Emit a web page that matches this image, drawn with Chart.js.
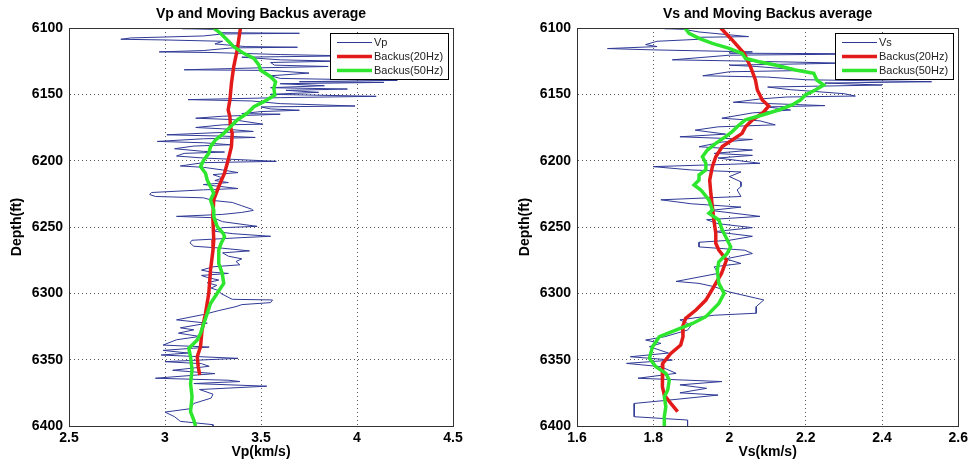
<!DOCTYPE html>
<html>
<head>
<meta charset="utf-8">
<script src="https://cdn.jsdelivr.net/npm/chart.js@4.4.1/dist/chart.umd.min.js"></script>
<style>
  body { margin: 0; background: #fff; width: 972px; height: 463px; overflow: hidden; position: relative; }
  .panel { position: absolute; top: 0; width: 486px; height: 463px; }
</style>
</head>
<body>
<div class="panel" style="left:0"><canvas id="vpChart" width="486" height="463"></canvas></div>
<div class="panel" style="left:486px"><canvas id="vsChart" width="486" height="463"></canvas></div>
<script>
// tick labels
var depthTicks = [6100, 6150, 6200, 6250, 6300, 6350, 6400];
var vpTicks = [2.5, 3, 3.5, 4, 4.5];
var vsTicks = [1.6, 1.8, 2, 2.2, 2.4, 2.6];

// [depth(ft), velocity(km/s)]
var vpLog = [
  [6100,3.26],[6100.5,3.09],[6101,3.25],[6103.5,3.28],[6104,3.70],[6104.5,3.30],[6106,3.20],[6107.5,2.82],
  [6108.5,2.77],[6109,3.00],[6110,3.30],[6112,3.26],[6114,3.42],[6114.5,3.69],[6115,3.35],[6117,3.20],
  [6118,2.97],[6118.5,3.25],[6120,3.60],[6121,3.95],[6122,3.40],[6124,3.60],[6125,3.90],[6126,3.55],
  [6128,3.57],[6129,3.85],[6130,3.50],[6131.5,3.10],[6132,3.55],[6134,3.75],[6136,3.55],[6138,3.60],
  [6139.5,4.21],[6140.5,3.70],[6141,4.14],[6142,3.60],[6143.5,3.83],[6145,3.55],[6146,3.95],[6147,3.63],
  [6148.5,3.80],[6150,3.55],[6151.5,4.10],[6152.5,3.60],[6154,3.12],[6155,3.45],[6157,3.60],[6158.8,3.99],
  [6159.5,3.50],[6161,3.55],[6162,3.70],[6163,3.50],[6164.5,3.40],[6165,3.60],[6166.5,3.30],[6168,3.16],
  [6169,3.35],[6172.5,3.51],[6173,3.30],[6175,3.16],[6176,3.30],[6178,3.46],[6179,3.25],[6180.5,3.01],
  [6181.5,3.30],[6182.5,3.47],[6183.5,3.20],[6185.5,2.96],[6186.5,3.20],[6188,3.34],[6189,3.15],[6191,3.05],
  [6193,3.20],[6193.5,3.31],[6194.5,3.10],[6196.5,3.06],[6198,3.20],[6200.5,3.58],[6201.5,3.20],[6204,3.08],
  [6205,3.20],[6207,3.30],[6209,3.38],[6210.5,3.25],[6213,3.30],[6215,3.26],[6216.5,3.33],[6218,3.20],
  [6221,3.38],[6222,3.20],[6224,2.93],[6225.5,2.92],[6227,2.95],[6228,3.20],[6230,3.25],[6231.5,3.35],
  [6234,3.40],[6236.5,3.45],[6237.5,3.46],[6239,3.40],[6240.5,3.30],[6242,3.06],[6243,3.25],[6246,3.30],
  [6249.5,3.48],[6250.5,3.30],[6253,3.25],[6255,3.35],[6257,3.55],[6258,3.40],[6260,3.14],[6262,3.13],
  [6264.5,3.15],[6266,3.30],[6268,3.44],[6269.5,3.30],[6272,3.33],[6274,3.40],[6276,3.37],[6278.5,3.39],
  [6280,3.25],[6282.5,3.19],[6284,3.24],[6285,3.33],[6286.5,3.19],[6288,3.22],[6290,3.28],[6292,3.22],
  [6294,3.27],[6296,3.24],[6298,3.28],[6300,3.29],[6304.5,3.35],[6305,3.56],[6307,3.55],[6308.5,3.40],
  [6310,3.37],[6313,3.28],[6316,3.20],[6320,3.06],[6322.5,3.22],[6326,3.08],[6327.5,3.15],[6330,3.07],
  [6332.5,3.18],[6335,3.06],[6339,2.99],[6340.5,3.23],[6343,2.99],[6345,3.12],[6346.5,2.98],[6349,3.38],
  [6351.5,3.00],[6353,3.19],[6355,3.23],[6358,3.04],[6360.5,3.26],[6364,2.95],[6365.5,3.33],[6366.5,3.39],
  [6368,3.15],[6370,3.53],[6372.5,3.18],[6376,3.25],[6379,3.24],[6383,3.15],[6387,3.13],[6389.5,3.00],
  [6393,3.05],[6396.5,3.08],[6399,3.25],[6400,3.25]
];
var vpBackus20 = [
  [6100,3.393],[6116.6,3.376],[6129.1,3.358],[6141.7,3.346],[6154.3,3.338],[6161.8,3.329],[6166.8,3.338],
  [6174.4,3.341],[6179.4,3.350],[6189.4,3.346],[6199.5,3.329],[6209.5,3.310],[6219.6,3.280],[6229.6,3.254],
  [6242.2,3.249],[6259.8,3.254],[6267.4,3.250],[6282.5,3.237],[6300,3.228],[6315.1,3.211],[6327.7,3.193],
  [6340.2,3.185],[6347.8,3.168],[6355.3,3.173],[6361.6,3.181]
];
var vpBackus50 = [
  [6100,3.254],[6104,3.289],[6109,3.324],[6114.1,3.358],[6119.1,3.410],[6122.9,3.463],[6127.9,3.489],
  [6131.7,3.497],[6136.7,3.550],[6140.5,3.576],[6145.5,3.567],[6150.5,3.572],[6155.5,3.515],[6159.3,3.463],
  [6164.3,3.428],[6169.3,3.376],[6174.4,3.341],[6179.4,3.306],[6184.4,3.263],[6189.4,3.237],[6194.5,3.228],
  [6199.5,3.202],[6204.5,3.185],[6209.5,3.211],[6214.6,3.220],[6219.6,3.237],[6224.6,3.254],[6229.6,3.237],
  [6237.2,3.254],[6242.2,3.254],[6249.7,3.272],[6254.8,3.303],[6257.3,3.310],[6262.3,3.292],[6267.4,3.280],
  [6277.4,3.280],[6285,3.298],[6292.5,3.306],[6300,3.272],[6307.6,3.237],[6315.1,3.220],[6322.7,3.202],
  [6330.2,3.185],[6335.2,3.168],[6341.5,3.124],[6347.8,3.133],[6357.8,3.141],[6367.9,3.133],[6377.9,3.141],
  [6389.2,3.133],[6395.5,3.150],[6400,3.159]
];

var vsLog = [
  [6100,1.88],[6100.5,1.83],[6101,1.88],[6103,1.92],[6106.5,2.05],[6107,1.92],[6108.5,1.92],[6110,1.81],
  [6112.5,1.78],[6114,1.81],[6115.5,1.68],[6116.5,1.80],[6118,2.06],[6119,2.00],[6119.5,2.40],[6120.5,2.00],
  [6124,1.85],[6125,2.05],[6126.5,2.30],[6128,2.00],[6129,2.07],[6132,2.20],[6133,2.00],[6136,1.93],
  [6137,2.10],[6139,2.20],[6140.5,2.53],[6141.5,2.25],[6143,2.40],[6144.5,2.10],[6146.5,2.16],[6149.5,2.30],
  [6151.3,2.33],[6152,2.15],[6153.5,2.08],[6156,2.01],[6158.5,2.25],[6159.5,2.10],[6161.8,2.16],[6164,2.06],
  [6168,1.98],[6170,2.08],[6173,2.12],[6174.5,1.97],[6177,1.91],[6180,1.99],[6182,1.87],[6184,2.06],
  [6186,1.98],[6189.5,1.92],[6192,2.06],[6194.5,1.96],[6196,2.06],[6198,1.97],[6202,2.08],[6204.5,1.80],
  [6207,1.90],[6208.5,2.03],[6212,2.00],[6216,2.03],[6219.5,2.03],[6222,2.02],[6227,2.03],[6229.5,1.82],
  [6232.5,1.90],[6235,2.03],[6237.5,1.95],[6242,2.08],[6244.5,1.94],[6247.5,1.97],[6250.5,2.06],[6253.5,1.96],
  [6257,2.06],[6260,2.00],[6261.5,1.92],[6265,1.92],[6267.5,2.04],[6270,2.06],[6274,1.99],[6277.5,2.03],
  [6280,1.96],[6285,1.97],[6291,1.86],[6292.5,1.92],[6295,1.96],[6299,2.00],[6301,2.03],[6305,2.09],
  [6310,2.07],[6315,2.07],[6316.5,1.96],[6320,1.87],[6324,1.90],[6327.7,1.89],[6332.7,1.83],[6335.2,1.78],
  [6337.7,1.82],[6340.2,1.79],[6345,1.84],[6347.8,1.74],[6350.3,1.85],[6352.8,1.73],[6355.3,1.82],[6360.3,1.86],
  [6364,1.76],[6366.5,1.98],[6369,1.87],[6371.6,1.94],[6375,1.87],[6376.7,1.97],[6380.5,1.84],[6383,1.75],
  [6388,1.75],[6393,1.75],[6395.5,1.89],[6400,1.89]
];
var vsBackus20 = [
  [6100,1.977],[6109,2.007],[6119.1,2.038],[6129.1,2.055],[6139.2,2.068],[6146.7,2.073],[6154.3,2.086],
  [6158.8,2.103],[6164.3,2.086],[6169.3,2.060],[6174.4,2.042],[6179.4,2.033],[6184.4,2.007],[6189.4,1.981],
  [6197,1.964],[6204.5,1.955],[6214.6,1.948],[6224.6,1.951],[6234.7,1.955],[6244.7,1.959],[6254.8,1.964],
  [6262.3,1.964],[6267.4,1.972],[6274.9,1.992],[6285,1.979],[6295,1.959],[6305.1,1.938],[6312.6,1.912],
  [6318.9,1.885],[6325.2,1.877],[6332.7,1.878],[6339,1.872],[6345.3,1.846],[6352.8,1.825],[6362.9,1.823],
  [6370.4,1.825],[6376.7,1.829],[6383,1.846],[6389.2,1.864]
];
var vsBackus50 = [
  [6100,1.883],[6104,1.894],[6107.8,1.920],[6111.6,1.955],[6115.3,1.999],[6119.1,2.033],[6122.9,2.042],
  [6125.4,2.077],[6127.9,2.120],[6131.7,2.173],[6134.2,2.221],[6139.2,2.229],[6143,2.247],[6146.7,2.225],
  [6150.5,2.199],[6154.3,2.186],[6158,2.164],[6161.8,2.129],[6165.6,2.086],[6169.3,2.042],[6173.1,2.025],
  [6178.1,2.007],[6181.9,1.990],[6186.9,1.964],[6192,1.942],[6197,1.929],[6202,1.938],[6207,1.938],
  [6210.8,1.920],[6214.6,1.920],[6218.3,1.907],[6222.1,1.925],[6229.6,1.946],[6237.2,1.955],[6239.7,1.946],
  [6244.7,1.972],[6252.3,1.981],[6257.3,1.990],[6264.9,2.003],[6269.9,1.994],[6276.2,1.972],[6282.5,1.968],
  [6292.5,1.972],[6300,1.986],[6307.6,1.972],[6317.6,1.938],[6322.7,1.903],[6327.7,1.859],[6332.7,1.816],
  [6340.2,1.798],[6349,1.790],[6355.3,1.807],[6360.3,1.833],[6365.4,1.842],[6372.9,1.838],[6377.9,1.829],
  [6385.5,1.833],[6393,1.829],[6400,1.829]
];

var FONT = "'Liberation Sans', Arial, Helvetica, sans-serif";

function pts(arr) {
  return arr.map(function (p) { return { x: p[1], y: p[0] }; });
}

// box around the axes plus a MATLAB-style legend drawn over the curves
var framePlugin = {
  id: 'frame',
  afterDatasetsDraw: function (chart) {
    var ctx = chart.ctx, a = chart.chartArea;
    ctx.save();
    ctx.strokeStyle = '#333';
    ctx.lineWidth = 1;
    ctx.strokeRect(Math.round(a.left) + 0.5, Math.round(a.top) + 0.5,
                   Math.round(a.right - a.left), Math.round(a.bottom - a.top));
    var w = 118, h = 46;
    var x0 = Math.round(a.right) - 5 - w, y0 = Math.round(a.top) + 5;
    ctx.fillStyle = '#fff';
    ctx.fillRect(x0, y0, w, h);
    ctx.strokeStyle = '#000';
    ctx.strokeRect(x0 + 0.5, y0 + 0.5, w, h);
    ctx.font = '11px ' + FONT;
    ctx.textBaseline = 'middle';
    chart.data.datasets.forEach(function (ds, i) {
      var y = y0 + 9.5 + i * 14;
      ctx.strokeStyle = ds.borderColor;
      ctx.lineWidth = ds.borderWidth;
      ctx.beginPath();
      ctx.moveTo(x0 + 7, y);
      ctx.lineTo(x0 + 42, y);
      ctx.stroke();
      ctx.fillStyle = '#222';
      ctx.fillText(ds.label, x0 + 44, y + 0.5);
    });
    ctx.restore();
  }
};

function makeChart(id, title, logLabel, log, b20, b50, xTicks, xTitle, padLeft, padRight) {
  var ctx = document.getElementById(id).getContext('2d');
  return new Chart(ctx, {
    type: 'scatter',
    data: {
      datasets: [
        { label: logLabel, data: pts(log), showLine: true, borderColor: '#2f3a96', borderWidth: 1,
          pointRadius: 0, order: 3 },
        { label: 'Backus(20Hz)', data: pts(b20), showLine: true, borderColor: '#e31a1a', borderWidth: 3.5,
          pointRadius: 0, order: 2 },
        { label: 'Backus(50Hz)', data: pts(b50), showLine: true, borderColor: '#2ee62e', borderWidth: 3.5,
          pointRadius: 0, order: 1 }
      ]
    },
    options: {
      responsive: false,
      animation: false,
      devicePixelRatio: 1,
      events: [],
      layout: { padding: { left: padLeft, right: padRight, top: 0, bottom: 0 } },
      plugins: {
        legend: { display: false },
        tooltip: { enabled: false },
        title: {
          display: true, text: title, fullSize: false, color: '#000',
          font: { family: FONT, size: 14, weight: 'bold' },
          padding: { top: 5.5, bottom: 5.7 }
        }
      },
      scales: {
        x: {
          type: 'linear', position: 'bottom',
          min: xTicks[0], max: xTicks[xTicks.length - 1],
          afterBuildTicks: function (s) { s.ticks = xTicks.map(function (v) { return { value: v }; }); },
          afterFit: function (s) { s.height = 37; },
          ticks: {
            color: '#000', padding: 4, maxRotation: 0, autoSkip: false,
            font: { family: FONT, size: 14, weight: 'bold' },
            callback: function (v) { return String(Math.round(v * 10) / 10); }
          },
          grid: { color: '#555', lineWidth: 1, drawTicks: false },
          border: { display: true, color: '#333', width: 1, dash: [1, 3] },
          title: { display: true, text: xTitle, color: '#000', padding: { top: 0, bottom: 2 },
                   font: { family: FONT, size: 14, weight: 'bold' } }
        },
        y: {
          type: 'linear', reverse: true,
          min: depthTicks[0], max: depthTicks[depthTicks.length - 1],
          afterBuildTicks: function (s) { s.ticks = depthTicks.map(function (v) { return { value: v }; }); },
          afterFit: function (s) { s.width = 69; },
          ticks: {
            color: '#000', padding: 6, autoSkip: false,
            font: { family: FONT, size: 14, weight: 'bold' },
            callback: function (v) { return String(v); }
          },
          grid: { color: '#555', lineWidth: 1, drawTicks: false },
          border: { display: true, color: '#333', width: 1, dash: [1, 3] },
          title: { display: true, text: 'Depth(ft)', color: '#000', padding: { top: 9, bottom: 0 },
                   font: { family: FONT, size: 14, weight: 'bold' } }
        }
      }
    },
    plugins: [framePlugin]
  });
}

makeChart('vpChart', 'Vp and Moving Backus average', 'Vp', vpLog, vpBackus20, vpBackus50,
          vpTicks, 'Vp(km/s)', 0, 33);
makeChart('vsChart', 'Vs and Moving Backus average', 'Vs', vsLog, vsBackus20, vsBackus50,
          vsTicks, 'Vs(km/s)', 22, 12);
</script>
</body>
</html>
